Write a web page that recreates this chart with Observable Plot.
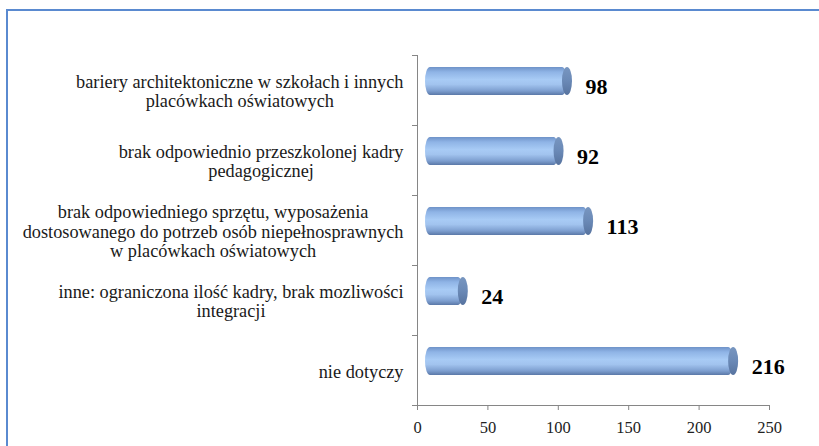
<!DOCTYPE html>
<html>
<head>
<meta charset="utf-8">
<script src="https://cdn.jsdelivr.net/npm/d3@7"></script>
<script src="https://cdn.jsdelivr.net/npm/@observablehq/plot@0.6"></script>
<style>
  html, body { margin: 0; padding: 0; background: #fff; overflow: hidden; }
  #frame { position: absolute; left: 6px; top: 9px; width: 900px; height: 500px; border: 2px solid #5a8ad0; box-sizing: border-box; }
  #chart { position: absolute; left: 0; top: 0; }
</style>
</head>
<body>
<div id="frame"></div>
<div id="chart"></div>
<script>
const categories = [
  "bariery architektoniczne w szkołach i innych\nplacówkach oświatowych",
  "brak odpowiednio przeszkolonej kadry\npedagogicznej",
  "brak odpowiedniego sprzętu, wyposażenia\ndostosowanego do potrzeb osób niepełnosprawnych\nw placówkach oświatowych",
  "inne: ograniczona ilość kadry, brak mozliwości\nintegracji",
  "nie dotyczy"
];
const values = [98, 92, 113, 24, 216];
const xTicks = [0, 50, 100, 150, 200, 250];

const data = categories.map((c, i) => ({category: c, value: values[i]}));

const serif = "'Liberation Serif', 'Times New Roman', serif";
const labelSize = 18.3;
const ctx = document.createElement("canvas").getContext("2d");
ctx.font = `${labelSize}px ${serif}`;
const maxWidth = c => Math.max(...c.split("\n").map(l => ctx.measureText(l).width));

const axisColor = "#868686";

function defs() {
  const d = d3.create("svg:defs");
  const g = d.append("linearGradient").attr("id", "cyl").attr("x1", 0).attr("y1", 0).attr("x2", 0).attr("y2", 1);
  [[0, "#6f93c8"], [0.18, "#8fb4e6"], [0.45, "#a8cbf5"], [0.62, "#a2c4ef"], [0.85, "#7e9fd0"], [1, "#5a78a8"]]
    .forEach(([o, c]) => g.append("stop").attr("offset", o).attr("stop-color", c));
  const g2 = d.append("linearGradient").attr("id", "cap").attr("x1", 0).attr("y1", 0).attr("x2", 0).attr("y2", 1);
  [[0, "#7896c0"], [0.5, "#6a89b6"], [1, "#57739f"]]
    .forEach(([o, c]) => g2.append("stop").attr("offset", o).attr("stop-color", c));
  return d.node();
}

function axes(index, scales) {
  const {x, y} = scales;
  const g = d3.create("svg:g").attr("stroke", axisColor).attr("fill", "none").attr("stroke-width", 1);
  const x0 = x(0), x1 = x(xTicks[xTicks.length - 1]);
  const bw = y(categories[1]) - y(categories[0]);
  const top = y(categories[0]);
  const bottom = y(categories[categories.length - 1]) + bw;
  g.append("line").attr("x1", x0 + 0.5).attr("x2", x0 + 0.5).attr("y1", top).attr("y2", bottom);
  g.append("line").attr("x1", x0).attr("x2", x1).attr("y1", bottom + 0.5).attr("y2", bottom + 0.5);
  for (let i = 0; i <= categories.length; i++) {
    const yy = Math.round(top + i * bw) + 0.5;
    g.append("line").attr("x1", x0 - 5).attr("x2", x0).attr("y1", yy).attr("y2", yy);
  }
  return g.node();
}

const marks = [
  defs,
  axes,
  Plot.axisX({ticks: xTicks, tickSize: 5, tickPadding: 11, stroke: axisColor, fill: "#222", label: null,
    fontSize: 16.5, fontFamily: serif}),
  Plot.barX(data, {x1: 0, x2: "value", y: "category", fill: "url(#cyl)",
    insetTop: 21, insetBottom: 21, insetLeft: -4, dx: 12, dy: -9, rx: 5, ry: 14}),
  Plot.barX(data, {x1: "value", x2: "value", y: "category", fill: "url(#cap)",
    insetTop: 21, insetBottom: 21, insetLeft: -5, insetRight: -5, dx: 12, dy: -9, rx: 5, ry: 14}),
  Plot.text(data, {x: "value", y: "category", text: d => String(d.value), dx: 30, dy: -4,
    textAnchor: "start", fontSize: 22, fontWeight: "bold", fill: "#000", fontFamily: serif})
];

data.forEach(d => {
  marks.push(Plot.text([d], {x: () => 0, y: "category", text: "category", textAnchor: "middle",
    dx: -(14 + maxWidth(d.category) / 2), dy: 1, lineHeight: 1.06, fontSize: labelSize, fill: "#1a1a1a",
    fontFamily: serif}));
});

const chart = Plot.plot({
  width: 819,
  height: 446,
  marginLeft: 417,
  marginRight: 50,
  marginTop: 55,
  marginBottom: 41,
  style: {background: "transparent", overflow: "visible"},
  x: {domain: [0, 250], axis: null},
  y: {domain: categories, axis: null, padding: 0},
  marks
});
document.getElementById("chart").appendChild(chart);
</script>
</body>
</html>
